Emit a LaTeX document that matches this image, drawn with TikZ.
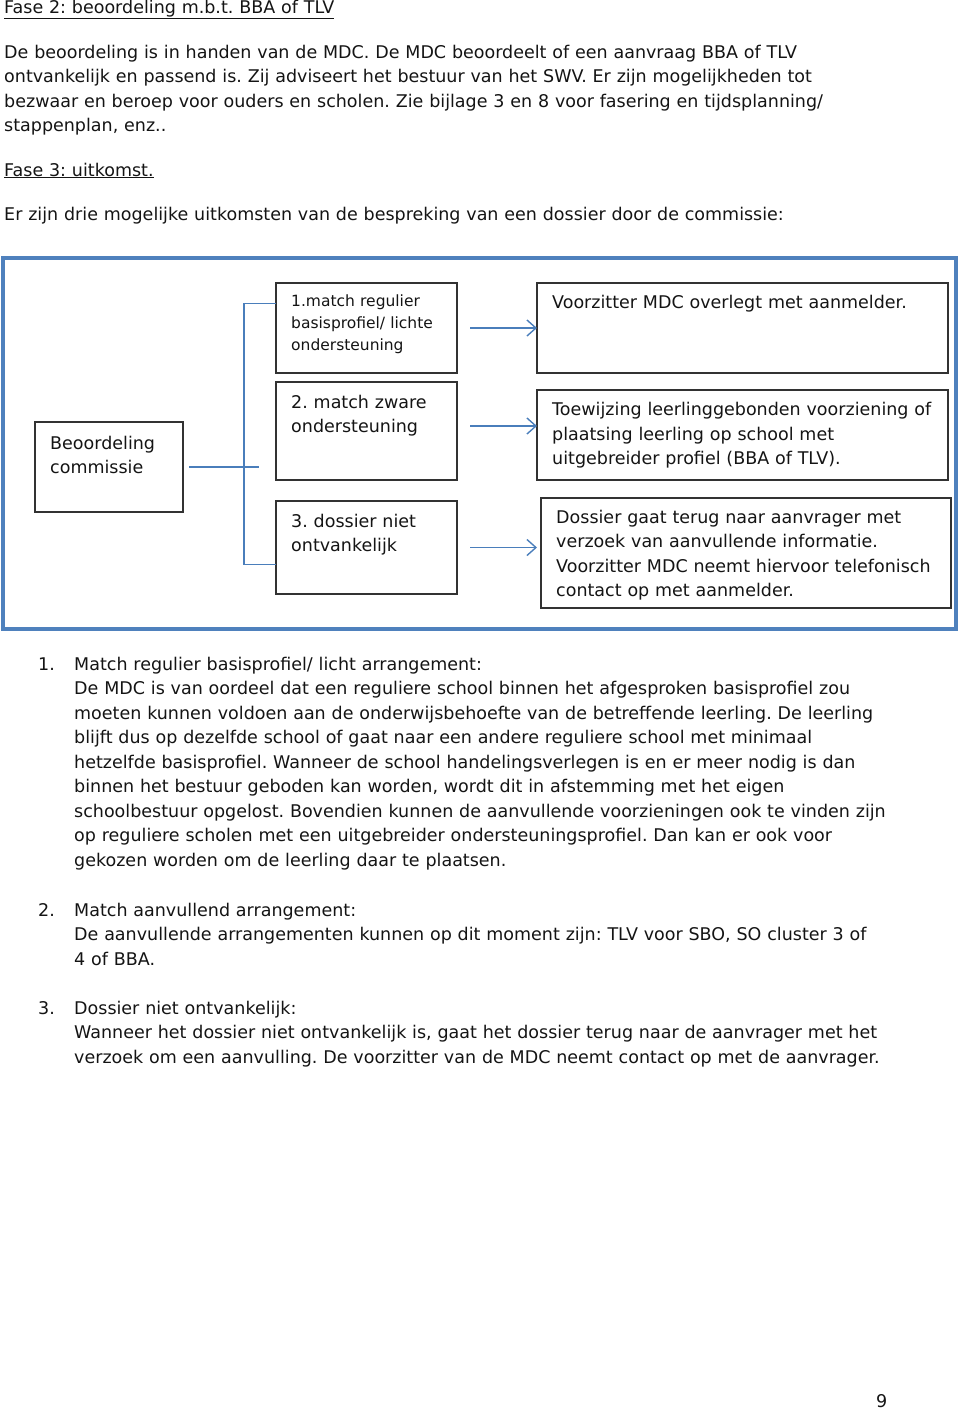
\documentclass[tikz,border=0pt]{standalone}
\usepackage{fontspec}
\setmainfont{DejaVu Sans}
\frenchspacing
\usetikzlibrary{arrows.meta, positioning}
\definecolor{frameblue}{RGB}{79,129,189}
\definecolor{linkblue}{RGB}{74,126,187}
\definecolor{boxgray}{RGB}{50,50,50}
\definecolor{inkgray}{RGB}{20,20,20}
\tikzset{
  body/.style={anchor=base west, inner sep=0pt, text width=900pt, align=left, text=inkgray,
    font=\fontsize{17.5}{24.5}\selectfont},
  smallbody/.style={body, font=\fontsize{15.5}{22}\selectfont},
  box/.style={rectangle, draw=boxgray, line width=1.4pt, anchor=north west, inner sep=0pt, outer sep=0pt},
  conn/.style={draw=linkblue, line width=1.6pt},
  arr/.style={conn, -{Straight Barb[length=9pt,width=16pt,line width=1.4pt]}}
}

\begin{document}
\begin{tikzpicture}[x=1pt, y=-1pt]
	\useasboundingbox (0,0) rectangle (960,1409);

	% Intro text
	\node [body] (fase2) at (4,13) {\underline{Fase 2: beoordeling m.b.t. BBA of TLV}};
	\node [body] (intro) at (4,58) {De beoordeling is in handen van de MDC. De MDC beoordeelt of een aanvraag BBA of TLV\\
		ontvankelijk en passend is. Zij adviseert het bestuur van het SWV. Er zijn mogelijkheden tot\\
		bezwaar en beroep voor ouders en scholen. Zie bijlage 3 en 8 voor fasering en tijdsplanning/\\
		stappenplan, enz..};
	\node [body] (fase3) at (4,176) {\underline{Fase 3: uitkomst.}};
	\node [body] (drie) at (4,220) {Er zijn drie mogelijke uitkomsten van de bespreking van een dossier door de commissie:};

	% Frame
	\draw [frameblue, line width=4pt] (3,258) rectangle (956,629);

	% Place boxes
	\node [box, minimum width=148, minimum height=90] (bc) at (35,422) {};
	\node [box, minimum width=181, minimum height=90] (m1) at (276,283) {};
	\node [box, minimum width=181, minimum height=98] (m2) at (276,382) {};
	\node [box, minimum width=181, minimum height=93] (m3) at (276,501) {};
	\node [box, minimum width=411, minimum height=90] (r1) at (537,283) {};
	\node [box, minimum width=411, minimum height=90] (r2) at (537,390) {};
	\node [box, minimum width=410, minimum height=110] (r3) at (541,498) {};

	% Box texts
	\node [body] (bctxt) at (50,449) {Beoordeling\\commissie};
	\node [smallbody] (m1txt) at (291,306.5) {1.match regulier\\basisprofiel/ lichte\\ondersteuning};
	\node [body] (m2txt) at (291,408) {2. match zware\\ondersteuning};
	\node [body] (m3txt) at (291,527) {3. dossier niet\\ontvankelijk};
	\node [body] (r1txt) at (552,308) {Voorzitter MDC overlegt met aanmelder.};
	\node [body] (r2txt) at (552,415.5) {Toewijzing leerlinggebonden voorziening of\\plaatsing leerling op school met\\uitgebreider profiel (BBA of TLV).};
	\node [body] (r3txt) at (556,523) {Dossier gaat terug naar aanvrager met\\verzoek van aanvullende informatie.\\Voorzitter MDC neemt hiervoor telefonisch\\contact op met aanmelder.};

	% Draw edges
	\coordinate (split) at (244,0 |- bc.east);
	\draw [conn] ([xshift=6pt]bc.east) -- ([xshift=15pt]split);
	\draw [conn] ([yshift=24.5pt]m1.west) -| (split) |- ([yshift=-17pt]m3.west);
	\draw [arr] ([xshift=13pt]m1.east) -- (m1.east -| r1.west);
	\draw [arr] ([xshift=13pt, yshift=5pt]m2.east) -- ([yshift=5pt]m2.east -| r2.west);
	\draw [arr] ([xshift=13pt]m3.east) -- (m3.east -| r1.west);

	% Outcome list
	\node [body] (n1) at (38,670) {1.};
	\node [body] (o1) at (74,670) {Match regulier basisprofiel/ licht arrangement:\\
		De MDC is van oordeel dat een reguliere school binnen het afgesproken basisprofiel zou\\
		moeten kunnen voldoen aan de onderwijsbehoefte van de betreffende leerling. De leerling\\
		blijft dus op dezelfde school of gaat naar een andere reguliere school met minimaal\\
		hetzelfde basisprofiel. Wanneer de school handelingsverlegen is en er meer nodig is dan\\
		binnen het bestuur geboden kan worden, wordt dit in afstemming met het eigen\\
		schoolbestuur opgelost. Bovendien kunnen de aanvullende voorzieningen ook te vinden zijn\\
		op reguliere scholen met een uitgebreider ondersteuningsprofiel. Dan kan er ook voor\\
		gekozen worden om de leerling daar te plaatsen.};
	\node [body] (n2) at (38,916) {2.};
	\node [body] (o2) at (74,916) {Match aanvullend arrangement:\\
		De aanvullende arrangementen kunnen op dit moment zijn: TLV voor SBO, SO cluster 3 of\\
		4 of BBA.};
	\node [body] (n3) at (38,1014) {3.};
	\node [body] (o3) at (74,1014) {Dossier niet ontvankelijk:\\
		Wanneer het dossier niet ontvankelijk is, gaat het dossier terug naar de aanvrager met het\\
		verzoek om een aanvulling. De voorzitter van de MDC neemt contact op met de aanvrager.};

	% Page number
	\node [body] (page) at (876,1407) {9};

\end{tikzpicture}
\end{document}
